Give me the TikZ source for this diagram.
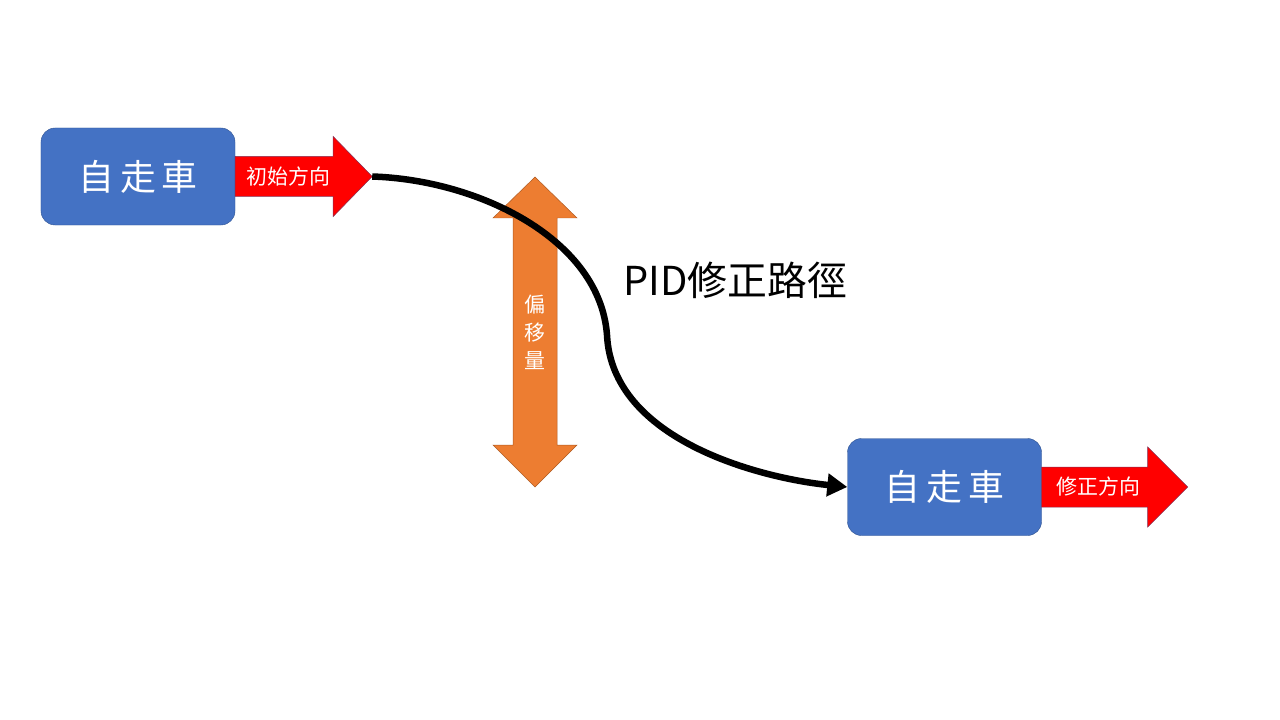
\documentclass[tikz,border=0pt]{standalone}
\usepackage{fontspec}
\setmainfont{Noto Sans CJK TC}
\newfontfamily\carfont[LetterSpace=16]{Noto Sans CJK TC}
\usepackage{xcolor}
\usetikzlibrary{arrows.meta, positioning}
\definecolor{carblue}{HTML}{4472C4}
\definecolor{carline}{HTML}{2F528F}
\definecolor{shiftorange}{HTML}{ED7D31}
\definecolor{shiftline}{HTML}{AE5A21}

\begin{document}
\begin{tikzpicture}[x=1bp, y=-1bp,
  car/.style={draw=carline, fill=carblue, rounded corners=14bp, minimum width=194bp,
    minimum height=97bp, text=white, font=\carfont\fontsize{36}{40}\selectfont},
  dirarrow/.style={draw=carline!60!red, fill=red, line width=0.5bp},
  dirtext/.style={text=white, inner sep=0pt, font=\fontsize{21}{24}\selectfont},
  shiftarrow/.style={draw=shiftline, fill=shiftorange, line width=0.5bp}]
  \useasboundingbox (0,0) rectangle (1280,720);
  \node[car] (car1) at (138,176.5) {自走車};
  \filldraw[dirarrow] (car1.east) ++(0,-20) -- ++(98,0) -- ++(0,-20) -- ++(39,40)
    -- ++(-39,40) -- ++(0,-20) -- ++(-98,0) -- cycle;
  \coordinate[right=137bp of car1.east] (tip1);
  \node[dirtext, right=11bp of car1] (dir1) {初始方向};
  \filldraw[shiftarrow] (513,218) -- (493,218) -- (535,177) -- (577,218) -- (557,218)
    -- (557,445) -- (577,445) -- (535,487) -- (493,445) -- (513,445) -- cycle;
  \node[dirtext, align=center, font=\fontsize{21}{28}\selectfont] (shift) at (535,332) {偏\\移\\量};
  \node[font=\fontsize{40}{44}\selectfont] (pidlabel) at (735,280) {PID修正路徑};
  \node[car] (car2) at (944.5,487) {自走車};
  \filldraw[dirarrow] (car2.east) ++(0,-20) -- ++(106,0) -- ++(0,-20) -- ++(40,40)
    -- ++(-40,40) -- ++(0,-20) -- ++(-106,0) -- cycle;
  \node[dirtext, right=15bp of car2] (dir2) {修正方向};
  \draw[line width=6.5bp, -{Triangle[length=20bp,width=22bp]}] (tip1)
    .. controls (480,180) and (600,240) .. (607,335)
    .. controls (612,440) and (760,478) .. (car2.west);
\end{tikzpicture}
\end{document}
